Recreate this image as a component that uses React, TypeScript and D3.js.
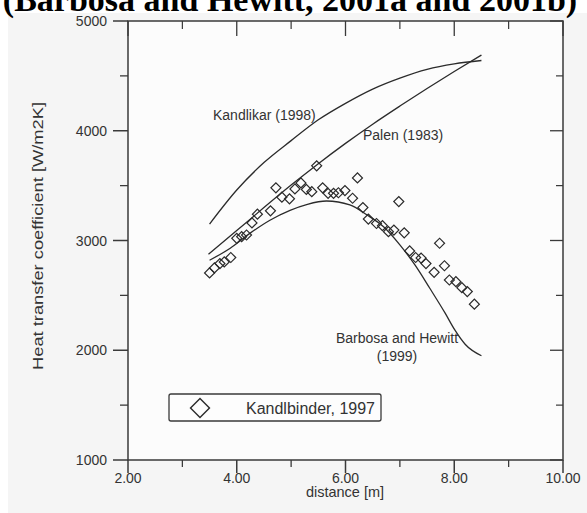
import React from 'react';
import * as d3 from 'd3';

// Observed data (Kandlbinder, 1997): distance [m], heat transfer coefficient [W/m2K]
const obsDistance = [3.50, 3.59, 3.69, 3.77, 3.89, 4.00, 4.09, 4.18, 4.28, 4.38, 4.62, 4.72, 4.83, 4.97, 5.07, 5.18, 5.28, 5.38, 5.47, 5.58, 5.68, 5.78, 5.87, 5.99, 6.13, 6.22, 6.32, 6.42, 6.57, 6.68, 6.79, 6.89, 6.98, 7.08, 7.18, 7.29, 7.39, 7.48, 7.63, 7.73, 7.82, 7.91, 8.03, 8.14, 8.24, 8.37];
const obsHtc = [2705, 2750, 2790, 2805, 2845, 3020, 3035, 3050, 3160, 3240, 3270, 3480, 3395, 3380, 3470, 3525, 3465, 3445, 3680, 3480, 3430, 3430, 3435, 3455, 3385, 3570, 3300, 3195, 3155, 3135, 3080, 3095, 3355, 3070, 2905, 2845, 2840, 2790, 2710, 2975, 2770, 2640, 2625, 2570, 2535, 2420];

// Correlation curves
const kandlikarX = [3.5, 4.0, 4.5, 5.0, 5.5, 6.0, 6.5, 7.0, 7.5, 8.0, 8.5];
const kandlikarY = [3150, 3460, 3710, 3910, 4100, 4250, 4380, 4480, 4560, 4610, 4640];
const palenX = [3.48, 4.0, 4.5, 5.0, 5.5, 6.0, 6.5, 7.0, 7.5, 8.0, 8.5];
const palenY = [2875, 3090, 3300, 3505, 3700, 3885, 4060, 4225, 4385, 4540, 4690];
const barbosaX = [3.5, 3.88, 4.24, 4.61, 4.98, 5.3, 5.65, 6.08, 6.39, 6.7, 7.0, 7.28, 7.55, 7.83, 8.01, 8.2, 8.5];
const barbosaY = [2820, 2930, 3065, 3185, 3275, 3330, 3360, 3325, 3235, 3125, 2960, 2775, 2565, 2340, 2185, 2055, 1950];

const xMajor = [2, 4, 6, 8, 10];
const xMinor = [3, 5, 7, 9];
const xTickLabels = ['2.00', '4.00', '6.00', '8.00', '10.00'];
const yMajor = [1000, 2000, 3000, 4000, 5000];
const yMinor = [1500, 2500, 3500, 4500];
const yTickLabels = ['1000', '2000', '3000', '4000', '5000'];

const title = '(Barbosa and Hewitt, 2001a and 2001b)';
const xTitle = 'distance [m]';
const yTitle = 'Heat transfer coefficient [W/m2K]';
const legendLabel = 'Kandlbinder, 1997';

export default function App() {
  const x = d3.scaleLinear().domain([2, 10]).range([128, 563]);
  const y = d3.scaleLinear().domain([1000, 5000]).range([460, 21]);
  const mk = (xs: number[], ys: number[]) =>
    d3
      .line<[number, number]>()
      .x((d) => x(d[0]))
      .y((d) => y(d[1]))
      .curve(d3.curveMonotoneX)(xs.map((v, i) => [v, ys[i]] as [number, number])) || '';

  const diamond = d3.symbol().type(d3.symbolSquare).size(50)() || '';
  const diamondBig = d3.symbol().type(d3.symbolSquare).size(180)() || '';

  const ink = '#2b2b2b';
  const font = 'Liberation Sans, Arial, sans-serif';
  const [x0, x1] = x.range();
  const [yb, yt] = y.range();

  return (
    <svg
      width={587}
      height={513}
      style={{ position: 'absolute', left: 0, top: 0, background: '#fff' }}
    >
      <rect x={8} y={13} width={579} height={500} fill="#f5f5f5" />
      <rect x={x0} y={yt} width={x1 - x0} height={yb - yt} fill="#fcfcfc" />
      <text
        x={290}
        y={11}
        textAnchor="middle"
        fontFamily="Liberation Serif, Times New Roman, serif"
        fontWeight="bold"
        fontSize={34}
        fill="#000"
      >
        {title}
      </text>

      {/* frame */}
      <rect x={x0} y={yt} width={x1 - x0} height={yb - yt} fill="none" stroke="#3a3a3a" strokeWidth={1.5} />

      {/* x ticks bottom (outward) and top (inward) */}
      {xMajor.map((v) => (
        <g key={'xm' + v}>
          <line x1={x(v)} x2={x(v)} y1={yb} y2={yb + 13} stroke="#3a3a3a" strokeWidth={1.5} />
          <line x1={x(v)} x2={x(v)} y1={yt} y2={yt + 15} stroke="#3a3a3a" strokeWidth={1.3} />
        </g>
      ))}
      {xMinor.map((v) => (
        <g key={'xn' + v}>
          <line x1={x(v)} x2={x(v)} y1={yb} y2={yb + 7} stroke="#3a3a3a" strokeWidth={1.3} />
          <line x1={x(v)} x2={x(v)} y1={yt} y2={yt + 8} stroke="#3a3a3a" strokeWidth={1.2} />
        </g>
      ))}
      {xMajor.map((v, i) => (
        <text key={'xl' + v} x={x(v)} y={483} textAnchor="middle" fontFamily={font} fontSize={14} fill="#333">
          {xTickLabels[i]}
        </text>
      ))}

      {/* y ticks left (outward) and right (inward) */}
      {yMajor.map((v) => (
        <g key={'ym' + v}>
          <line x1={x0 - 15} x2={x0} y1={y(v)} y2={y(v)} stroke="#3a3a3a" strokeWidth={1.5} />
          <line x1={x1 - 13} x2={x1} y1={y(v)} y2={y(v)} stroke="#3a3a3a" strokeWidth={1.3} />
        </g>
      ))}
      {yMinor.map((v) => (
        <g key={'yn' + v}>
          <line x1={x0 - 8} x2={x0} y1={y(v)} y2={y(v)} stroke="#3a3a3a" strokeWidth={1.3} />
          <line x1={x1 - 7} x2={x1} y1={y(v)} y2={y(v)} stroke="#3a3a3a" strokeWidth={1.2} />
        </g>
      ))}
      {yMajor.map((v, i) => (
        <text key={'yl' + v} x={107} y={y(v) + 5} textAnchor="end" fontFamily={font} fontSize={14} fill="#333">
          {yTickLabels[i]}
        </text>
      ))}

      <text x={345} y={497} textAnchor="middle" fontFamily={font} fontSize={14.5} fill="#333">
        {xTitle}
      </text>
      <text
        transform="translate(43,236) rotate(-90)"
        textAnchor="middle"
        fontFamily={font}
        fontSize={14.5}
        fill="#333"
        textLength={268}
        lengthAdjust="spacingAndGlyphs"
      >
        {yTitle}
      </text>

      {/* curves */}
      <path d={mk(kandlikarX, kandlikarY)} fill="none" stroke={ink} strokeWidth={1.3} />
      <path d={mk(palenX, palenY)} fill="none" stroke={ink} strokeWidth={1.3} />
      <path d={mk(barbosaX, barbosaY)} fill="none" stroke={ink} strokeWidth={1.3} />

      {/* observations */}
      {obsDistance.map((d, i) => (
        <path
          key={'o' + i}
          d={diamond}
          transform={`translate(${x(d)},${y(obsHtc[i])}) rotate(45)`}
          fill="none"
          stroke={ink}
          strokeWidth={1.2}
        />
      ))}

      {/* curve labels */}
      <text x={213} y={120} fontFamily={font} fontSize={14} fill="#333">Kandlikar (1998)</text>
      <text x={363} y={140} fontFamily={font} fontSize={14} fill="#333">Palen (1983)</text>
      <text x={397} y={343} textAnchor="middle" fontFamily={font} fontSize={14} fill="#333">Barbosa and Hewitt</text>
      <text x={397} y={361} textAnchor="middle" fontFamily={font} fontSize={14} fill="#333">(1999)</text>

      {/* legend */}
      <rect x={169} y={394} width={212} height={27} rx={2} fill="#fdfdfd" stroke="#3a3a3a" strokeWidth={1.3} />
      <path d={diamondBig} transform="translate(200,408) rotate(45)" fill="none" stroke={ink} strokeWidth={1.4} />
      <text x={246} y={414} fontFamily={font} fontSize={16} fill="#333">{legendLabel}</text>
    </svg>
  );
}
